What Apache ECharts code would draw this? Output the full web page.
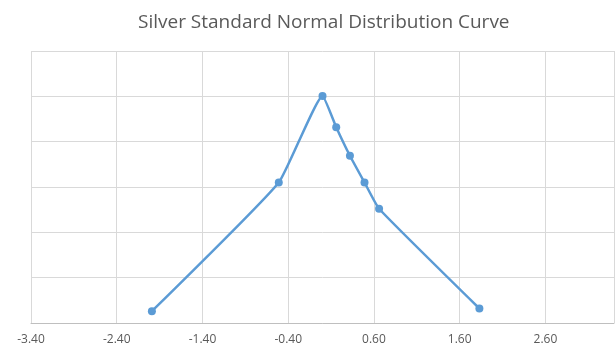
<!DOCTYPE html>
<html>
<head>
<meta charset="utf-8">
<script src="https://cdn.jsdelivr.net/npm/echarts@6/dist/echarts.min.js"></script>
<style>
  html, body { margin: 0; padding: 0; background: #ffffff; }
  #chart { width: 616px; height: 351px; }
</style>
</head>
<body>
<div id="chart"></div>
<script>
// Silver returns, standardised, against their normal density
const zScores = [-1.99, -0.51, 0.0, 0.16, 0.32, 0.49, 0.66, 1.83];
const density = [0.026, 0.310, 0.501, 0.432, 0.369, 0.310, 0.252, 0.032];

const points = zScores.map((z, i) => [z, density[i]]);

const chart = echarts.init(document.getElementById('chart'));
chart.setOption({
  backgroundColor: '#ffffff',
  title: {
    text: 'Silver Standard Normal Distribution Curve',
    left: 133,
    top: 8,
    textStyle: {
      fontFamily: 'Open Sans',
      fontSize: 19,
      fontWeight: 'normal',
      color: '#595959'
    }
  },
  grid: { left: 31, right: 2, top: 51, bottom: 28 },
  xAxis: {
    type: 'value',
    min: -3.4,
    max: 3.4,
    interval: 1,
    axisLine: { show: true, lineStyle: { color: '#bfbfbf', width: 1 } },
    axisTick: { show: false },
    axisLabel: {
      showMaxLabel: false,
      color: '#595959',
      fontFamily: 'Open Sans',
      fontSize: 12,
      margin: 11,
      formatter: v => v.toFixed(2)
    },
    splitLine: { show: true, lineStyle: { color: '#d9d9d9', width: 1 } }
  },
  yAxis: {
    type: 'value',
    min: 0,
    max: 0.6,
    interval: 0.1,
    axisLine: { show: false },
    axisTick: { show: false },
    axisLabel: { show: false },
    splitLine: { show: true, lineStyle: { color: '#d9d9d9', width: 1 } }
  },
  series: [{
    type: 'line',
    data: points,
    smooth: 0.13,
    symbol: 'circle',
    symbolSize: 8,
    lineStyle: { color: '#5b9bd5', width: 2.5 },
    itemStyle: { color: '#5b9bd5' },
    animation: false
  }]
});
</script>
</body>
</html>
